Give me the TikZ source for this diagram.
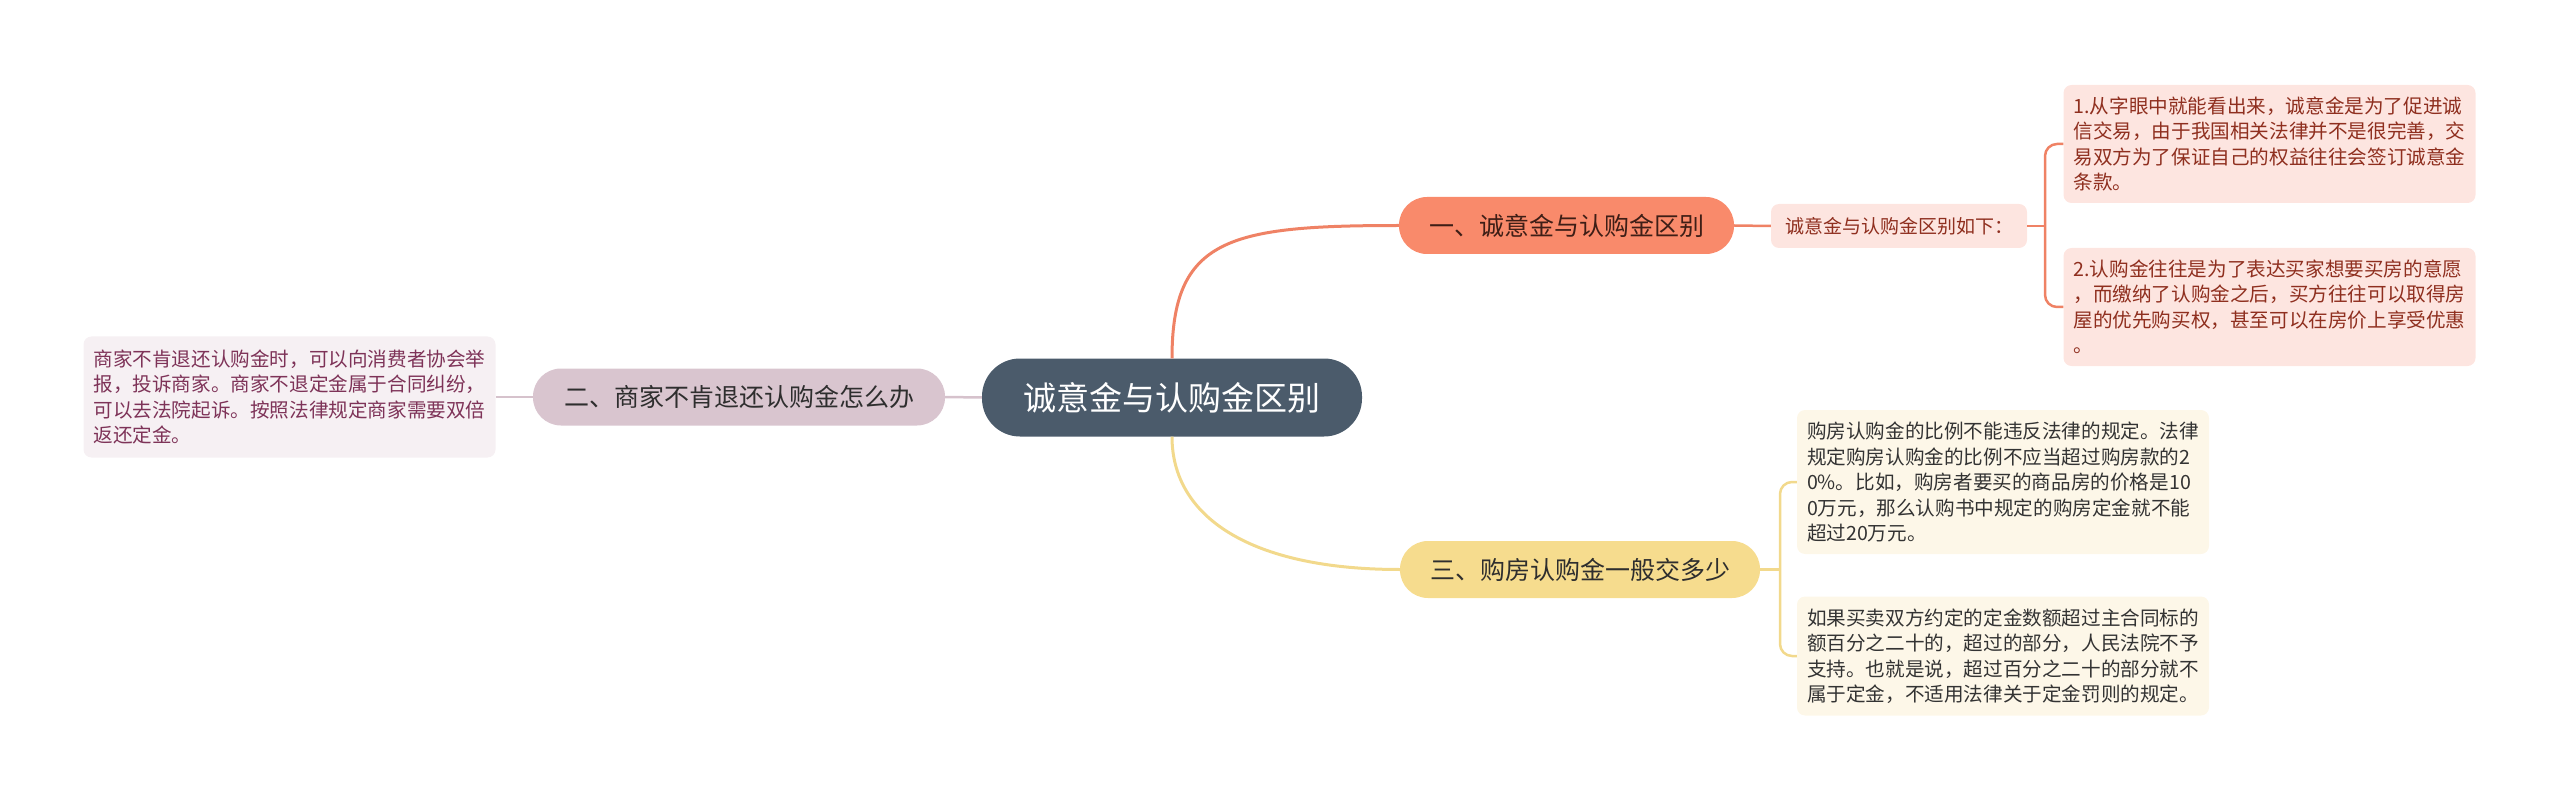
\documentclass[tikz,border=0pt]{standalone}
\usepackage{fontspec}
\setmainfont{Noto Sans CJK SC}

\definecolor{rootfill}{HTML}{4B5B6B}
\definecolor{onefill}{HTML}{F98A6B}
\definecolor{oneline}{HTML}{EF8265}
\definecolor{onetext}{HTML}{3E1E16}
\definecolor{onepale}{HTML}{FDE5E0}
\definecolor{onedark}{HTML}{8F2F1F}
\definecolor{twofill}{HTML}{D9C5CF}
\definecolor{twoline}{HTML}{D6C2CC}
\definecolor{twopale}{HTML}{F6F0F3}
\definecolor{twodark}{HTML}{7E3358}
\definecolor{threefill}{HTML}{F6DC8E}
\definecolor{threeline}{HTML}{F2D98C}
\definecolor{threepale}{HTML}{FDF7E8}

\begin{document}
\begin{tikzpicture}[
        x=1pt, y=-1pt,
        root/.style = {
            rounded corners=38pt, fill=rootfill, text=white,
            minimum width=380pt, minimum height=78pt,
            font=\fontsize{33}{40}\selectfont
        },
        branch/.style = {
            rounded corners=28pt, minimum height=57pt, inner xsep=0pt,
            font=\fontsize{25}{30}\selectfont
        },
        leaf/.style = {
            rounded corners=8pt, text width=392pt, inner xsep=10pt,
            align=left, font=\fontsize{19.6}{25.5}\selectfont
        },
        link1/.style = {draw=oneline, line width=2.5pt},
        link2/.style = {draw=twoline, line width=2.5pt},
        link3/.style = {draw=threeline, line width=2.5pt}
    ]
        \useasboundingbox (0,0) rectangle (2560,802);

        % centre
        \node[root] (root) at (1172,397.5) {诚意金与认购金区别};

        % first branch
        \node[branch, fill=onefill, text=onetext, minimum width=335pt] (br1) at (1566.5,225.5) {一、诚意金与认购金区别};
        \node[rounded corners=8pt, fill=onepale, text=onedark, minimum width=256pt, minimum height=44pt,
              font=\fontsize{19}{23}\selectfont] (sub1) at (1899,226) {诚意金与认购金区别如下：};
        \node[leaf, fill=onepale, text=onedark, minimum height=118pt] (leaf1) at (2269.5,144) {1.从字眼中就能看出来，诚意金是为了促进诚\\信交易，由于我国相关法律并不是很完善，交\\易双方为了保证自己的权益往往会签订诚意金\\条款。};
        \node[leaf, fill=onepale, text=onedark, minimum height=118pt] (leaf2) at (2269.5,307) {2.认购金往往是为了表达买家想要买房的意愿\\，而缴纳了认购金之后，买方往往可以取得房\\屋的优先购买权，甚至可以在房价上享受优惠\\。};
        \coordinate (k1) at (2045,226);

        % second branch
        \node[branch, fill=twofill, text=black!82, minimum width=412pt] (br2) at (739,397) {二、商家不肯退还认购金怎么办};
        \node[leaf, fill=twopale, text=twodark, minimum height=121pt] (leaf4) at (289.5,397) {商家不肯退还认购金时，可以向消费者协会举\\报，投诉商家。商家不退定金属于合同纠纷，\\可以去法院起诉。按照法律规定商家需要双倍\\返还定金。};

        % third branch
        \node[branch, fill=threefill, text=black!82, minimum width=360pt] (br3) at (1580,569.5) {三、购房认购金一般交多少};
        \node[leaf, fill=threepale, text=black!80, minimum height=144pt] (leaf3a) at (2003,482) {购房认购金的比例不能违反法律的规定。法律\\规定购房认购金的比例不应当超过购房款的2\\0\%。比如，购房者要买的商品房的价格是10\\0万元，那么认购书中规定的购房定金就不能\\超过20万元。};
        \node[leaf, fill=threepale, text=black!80, minimum height=119pt] (leaf3b) at (2003,656) {如果买卖双方约定的定金数额超过主合同标的\\额百分之二十的，超过的部分，人民法院不予\\支持。也就是说，超过百分之二十的部分就不\\属于定金，不适用法律关于定金罚则的规定。};
        \coordinate (k3) at (1780,569.5);

        % connectors
        \draw[link1, line width=3pt] (root.north) .. controls +(0,-120) and +(-170,0) .. (br1.west);
        \draw[link1] (br1.east) -- (sub1.west);
        \draw[link1] (sub1.east) -- (k1);
        \draw[link1, rounded corners=12pt] (leaf1.west) -| (k1) |- (leaf2.west);

        \draw[link2] (root.west) -- (br2.east);
        \draw[link2] (br2.west) -- (leaf4.east);

        \draw[link3, line width=3pt] (root.south) .. controls +(0,80) and +(-150,0) .. (br3.west);
        \draw[link3] (br3.east) -- (k3);
        \draw[link3, rounded corners=12pt] (leaf3a.west) -| (k3) |- (leaf3b.west);
    \end{tikzpicture}
\end{document}
